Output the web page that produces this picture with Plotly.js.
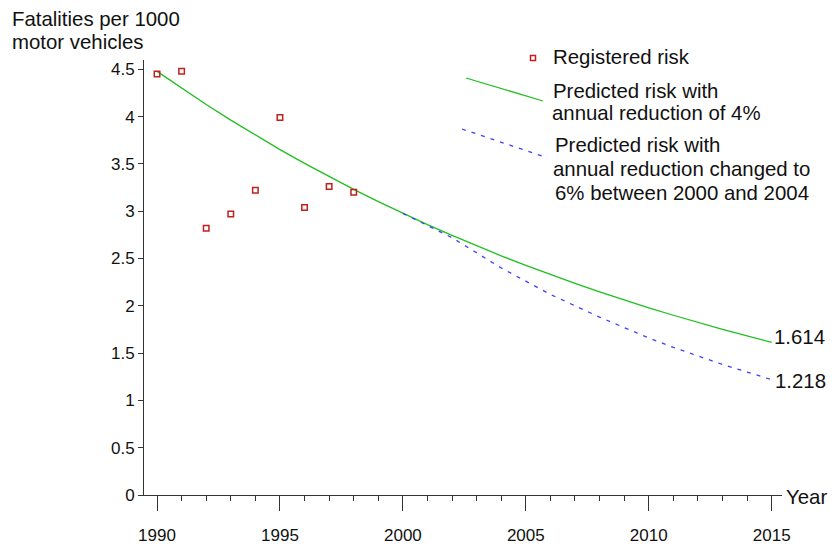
<!DOCTYPE html>
<html>
<head>
<meta charset="utf-8">
<script src="https://cdn.plot.ly/plotly-3.0.1.min.js"></script>
<style>html,body{margin:0;padding:0;background:#fff;}#chart{width:838px;height:547px;}</style>
</head>
<body>
<div id="chart"></div>
<script>
// Registered risk (observed)
var regYears = [1990, 1991, 1992, 1993, 1994, 1995, 1996, 1997, 1998];
var regRisk  = [4.45, 4.48, 2.82, 2.97, 3.22, 3.99, 3.04, 3.26, 3.20];

// Predicted risk, 4% annual reduction
var predYears = [1990,1991,1992,1993,1994,1995,1996,1997,1998,1999,2000,2001,2002,2003,2004,2005,2006,2007,2008,2009,2010,2011,2012,2013,2014,2015];
var pred4 = [4.478,4.299,4.127,3.962,3.803,3.651,3.505,3.365,3.230,3.101,2.977,2.858,2.744,2.634,2.528,2.427,2.330,2.237,2.147,2.061,1.979,1.900,1.824,1.751,1.681,1.614];

// Predicted risk, changed reduction
var altYears = [2000,2001,2002,2003,2004,2005,2006,2007,2008,2009,2010,2011,2012,2013,2014,2015];
var pred6 = [2.977,2.850,2.720,2.560,2.400,2.260,2.120,2.000,1.880,1.770,1.660,1.560,1.470,1.380,1.300,1.218];

var xTicks = [1990, 1995, 2000, 2005, 2010, 2015];
var yTicks = [0, 0.5, 1, 1.5, 2, 2.5, 3, 3.5, 4, 4.5];
var endLabels = ['1.614', '1.218'];

var FONT = 'Liberation Sans, Arial, sans-serif';
var axisColor = '#333333';

var traces = [
  {x: predYears, y: pred4, type: 'scatter', mode: 'lines',
   line: {color: '#1fbf1f', width: 1.3}, hoverinfo: 'x+y'},
  {x: altYears, y: pred6, type: 'scatter', mode: 'lines',
   line: {color: '#4040ff', width: 1.3, dash: '4px,6px'}, hoverinfo: 'x+y'},
  {x: regYears, y: regRisk, type: 'scatter', mode: 'markers',
   marker: {symbol: 'square-open', size: 5.5, color: '#c02020', line: {width: 1.5}}, hoverinfo: 'x+y'}
];

var l = 144, r = 56, t = 60, b = 52;
function px(x){ return (x - l) / (838 - l - r); }
function py(y){ return (547 - b - y) / (547 - t - b); }

var annFont = {family: FONT, size: 20.4, color: '#111'};
function txt(text, x, y){
  return {text: text, xref: 'paper', yref: 'paper', x: px(x), y: py(y),
          xanchor: 'left', yanchor: 'middle', showarrow: false, font: annFont};
}

var annotations = [
  txt('Fatalities per 1000', 10, 19),
  txt('motor vehicles', 10, 42),
  txt('Registered risk', 551, 57),
  txt('Predicted risk with', 551, 91),
  txt('annual reduction of 4%', 550, 113),
  txt('Predicted risk with', 553, 145),
  txt('annual reduction changed to', 551, 169),
  txt('6% between 2000 and 2004', 553, 193),
  {text: 'Year', xref: 'paper', yref: 'paper', x: 1, y: 0, xanchor: 'left', yanchor: 'middle',
   xshift: 2, yshift: -2, showarrow: false, font: annFont},
  {text: endLabels[0], x: predYears[predYears.length-1], y: pred4[pred4.length-1],
   xanchor: 'left', yanchor: 'middle', xshift: 0, yshift: 5, showarrow: false, font: annFont},
  {text: endLabels[1], x: altYears[altYears.length-1], y: pred6[pred6.length-1],
   xanchor: 'left', yanchor: 'middle', xshift: 1, yshift: -1, showarrow: false, font: annFont}
];

var shapes = [
  {type: 'line', xref: 'paper', yref: 'paper', x0: px(466), y0: py(78), x1: px(543), y1: py(101),
   line: {color: '#1fbf1f', width: 1.3}},
  {type: 'line', xref: 'paper', yref: 'paper', x0: px(462), y0: py(129), x1: px(545), y1: py(157),
   line: {color: '#4040ff', width: 1.3, dash: '4px,6px'}},
  {type: 'rect', xref: 'paper', yref: 'paper', xsizemode: 'pixel', ysizemode: 'pixel',
   xanchor: px(533), yanchor: py(58), x0: -2.5, x1: 2.5, y0: -2.5, y1: 2.5,
   line: {color: '#c02020', width: 1.5}}
];

var layout = {
  width: 838, height: 547,
  margin: {l: l, r: r, t: t, b: b, pad: 0},
  paper_bgcolor: '#ffffff', plot_bgcolor: '#ffffff',
  showlegend: false,
  font: {family: FONT, size: 17, color: '#111'},
  xaxis: {
    range: [1989.47, 2015.42], tickmode: 'array', tickvals: xTicks, ticktext: xTicks.map(String),
    ticks: 'outside', ticklen: 15, tickwidth: 1, tickcolor: axisColor,
    ticklabelstandoff: 10,
    minor: {dtick: 1, tick0: 1990, ticks: 'outside', ticklen: 5, tickwidth: 1, tickcolor: axisColor},
    showline: true, linecolor: axisColor, linewidth: 1,
    showgrid: false, zeroline: false, tickfont: {size: 17, family: FONT, color: '#111'}
  },
  yaxis: {
    range: [0, 4.598], tickmode: 'array', tickvals: yTicks, ticktext: yTicks.map(String),
    ticks: 'outside', ticklen: 5, tickwidth: 1, tickcolor: axisColor,
    showline: true, linecolor: axisColor, linewidth: 1,
    showgrid: false, zeroline: false, tickfont: {size: 17, family: FONT, color: '#111'}
  },
  annotations: annotations,
  shapes: shapes
};

Plotly.newPlot('chart', traces, layout, {displayModeBar: false, staticPlot: true});
</script>
</body>
</html>
